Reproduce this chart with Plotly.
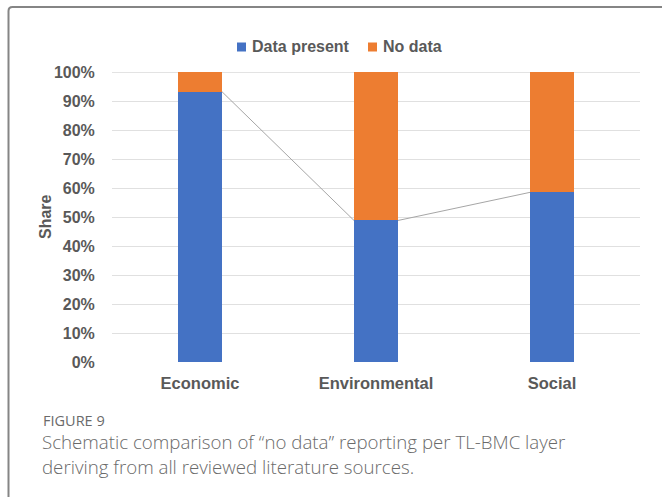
import plotly.graph_objects as go

# Share of literature sources per TL-BMC layer
categories = ["Economic", "Environmental", "Social"]
data_present = [0.932, 0.488, 0.585]
no_data = [1 - v for v in data_present]
y_ticks = [0, 0.1, 0.2, 0.3, 0.4, 0.5, 0.6, 0.7, 0.8, 0.9, 1.0]

BLUE = "#4472C4"
ORANGE = "#ED7D31"
TEXT = "#595959"
BAR_WIDTH = 0.25

W, H = 662, 497
ML, MR, MT, MB = 112, 22, 72, 135
PW, PH = W - ML - MR, H - MT - MB


def px(x):
    return (x - ML) / PW


def py(y):
    return (H - MB - y) / PH


xs = list(range(len(categories)))

fig = go.Figure()
fig.add_trace(go.Bar(x=xs, y=data_present, name="Data present",
                     marker=dict(color=BLUE, line=dict(width=0)), width=BAR_WIDTH))
fig.add_trace(go.Bar(x=xs, y=no_data, name="No data",
                     marker=dict(color=ORANGE, line=dict(width=0)), width=BAR_WIDTH))

# Series lines joining the tops of the "Data present" segments
for i in range(len(xs) - 1):
    fig.add_trace(go.Scatter(
        x=[xs[i] + BAR_WIDTH / 2, xs[i + 1] - BAR_WIDTH / 2],
        y=[data_present[i], data_present[i + 1]],
        mode="lines", line=dict(color="#A6A6A6", width=1),
        hoverinfo="skip", showlegend=False))

bold = dict(family="Liberation Sans, Arial, sans-serif", size=16, color=TEXT, weight="bold")

fig.update_layout(
    width=W, height=H,
    margin=dict(l=ML, r=MR, t=MT, b=MB, autoexpand=False),
    barmode="stack",
    bargap=0.75,
    paper_bgcolor="white",
    plot_bgcolor="white",
    showlegend=False,
    font=bold,
)

fig.update_xaxes(
    tickvals=xs, ticktext=categories, range=[-0.5, len(xs) - 0.5],
    showgrid=False, zeroline=False, showline=False,
    ticks="outside", ticklen=6, tickcolor="rgba(0,0,0,0)",
    tickfont=dict(family="Liberation Sans, Arial, sans-serif", size=16.5, color=TEXT, weight="bold"),
)
fig.update_yaxes(
    range=[0, 1.0], tickvals=y_ticks, tickformat=".0%",
    showgrid=True, gridcolor="#E0E0E0", gridwidth=1.3,
    zeroline=False, showline=False,
    ticks="outside", ticklen=13, tickcolor="rgba(0,0,0,0)",
    tickfont=bold,
)

# Top gridline at 100%
fig.add_shape(type="line", xref="paper", yref="y", x0=0, x1=1, y0=1, y1=1,
              line=dict(color="#DADADA", width=1.5), layer="below")

# Axis title
fig.add_annotation(text="Share", xref="paper", yref="paper", x=px(45), y=0.5,
                   textangle=-90, showarrow=False, xanchor="center", yanchor="middle",
                   font=bold)

# Legend
legend_items = [("Data present", BLUE, 237), ("No data", ORANGE, 368)]
for label, color, left in legend_items:
    fig.add_shape(type="rect", xref="paper", yref="paper",
                  x0=px(left), x1=px(left + 9), y0=py(51.5), y1=py(42.5),
                  fillcolor=color, line=dict(width=0))
    fig.add_annotation(text=label, xref="paper", yref="paper", x=px(left + 13), y=py(47),
                       showarrow=False, xanchor="left", yanchor="middle", font=bold)

# Caption
cap_font = dict(family="Open Sans, Noto Sans, sans-serif", color="#6A6A6A", weight=300)
fig.add_annotation(text="FIGURE 9", xref="paper", yref="paper", x=px(41), y=py(420),
                   showarrow=False, xanchor="left", yanchor="middle",
                   font=dict(size=14.5, family="Open Sans, Noto Sans, sans-serif",
                             color="#6A6A6A", weight="normal"))
fig.add_annotation(text="Schematic comparison of “no data” reporting per TL-BMC layer",
                   xref="paper", yref="paper", x=px(40), y=py(441),
                   showarrow=False, xanchor="left", yanchor="middle",
                   font=dict(size=18.7, **cap_font))
fig.add_annotation(text="deriving from all reviewed literature sources.",
                   xref="paper", yref="paper", x=px(40), y=py(466),
                   showarrow=False, xanchor="left", yanchor="middle",
                   font=dict(size=18.7, **cap_font))

# Frame around the figure panel
x0, y0, r = px(8.5), py(7), 4
fig.add_shape(type="path", xref="paper", yref="paper",
              path=(f"M {x0} {py(H + 5)} L {x0} {py(7 + r)} "
                    f"Q {x0} {y0} {px(8.5 + r)} {y0} L {px(W + 5)} {y0}"),
              line=dict(color="#858585", width=2))

fig.write_html("out.html")
